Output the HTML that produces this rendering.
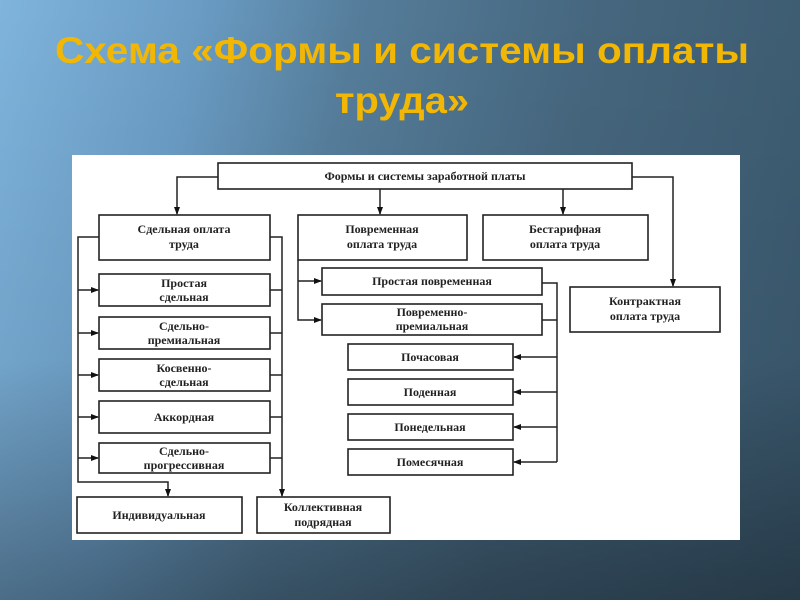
<!DOCTYPE html>
<html><head><meta charset="utf-8"><style>
html,body{margin:0;padding:0;width:800px;height:600px;overflow:hidden}
body{background:linear-gradient(100deg,#7fb4dc 0%,#6a9cc4 22%,#557d9a 40%,#46677f 65%,#3a586d 100%)}
</style></head><body>
<svg width="800" height="600" xmlns="http://www.w3.org/2000/svg" style="position:absolute;left:0;top:0">
<defs>
<linearGradient id="v" x1="0" y1="0" x2="0" y2="1">
<stop offset="0" stop-color="#000" stop-opacity="0"/>
<stop offset="0.6" stop-color="#000" stop-opacity="0.05"/>
<stop offset="1" stop-color="#000" stop-opacity="0.35"/>
</linearGradient>
<marker id="a" markerWidth="8" markerHeight="8" refX="7" refY="4" orient="auto" markerUnits="userSpaceOnUse">
<path d="M0,1 L8,4 L0,7 Z" fill="#111"/></marker>
</defs>
<rect width="800" height="600" fill="url(#v)"/>
<g font-family="Liberation Sans, sans-serif" font-weight="bold" fill="#f2b705" font-size="37" text-anchor="middle">
<text x="402" y="63" textLength="694" lengthAdjust="spacingAndGlyphs">Схема «Формы и системы оплаты</text>
<text x="402" y="113" textLength="134" lengthAdjust="spacingAndGlyphs">труда»</text>
</g>
<rect x="72" y="155" width="668" height="385" fill="#fff"/>
<g fill="none" stroke="#222" stroke-width="1.6">
<rect x="218" y="163" width="414" height="26"/>
<rect x="99" y="215" width="171" height="45"/>
<rect x="298" y="215" width="169" height="45"/>
<rect x="483" y="215" width="165" height="45"/>
<rect x="570" y="287" width="150" height="45"/>
<rect x="99" y="274" width="171" height="32"/>
<rect x="99" y="317" width="171" height="32"/>
<rect x="99" y="359" width="171" height="32"/>
<rect x="99" y="401" width="171" height="32"/>
<rect x="99" y="443" width="171" height="30"/>
<rect x="77" y="497" width="165" height="36"/>
<rect x="257" y="497" width="133" height="36"/>
<rect x="322" y="268" width="220" height="27"/>
<rect x="322" y="304" width="220" height="31"/>
<rect x="348" y="344" width="165" height="26"/>
<rect x="348" y="379" width="165" height="26"/>
<rect x="348" y="414" width="165" height="26"/>
<rect x="348" y="449" width="165" height="26"/>
</g>
<g fill="none" stroke="#222" stroke-width="1.5">
<path d="M218,177 H177 V214" marker-end="url(#a)"/>
<path d="M632,177 H673 V286" marker-end="url(#a)"/>
<path d="M380,189 V214" marker-end="url(#a)"/>
<path d="M563,189 V214" marker-end="url(#a)"/>
<path d="M99,237 H78 V482 H168 V496" marker-end="url(#a)"/>
<path d="M78,290 H98" marker-end="url(#a)"/>
<path d="M78,333 H98" marker-end="url(#a)"/>
<path d="M78,375 H98" marker-end="url(#a)"/>
<path d="M78,417 H98" marker-end="url(#a)"/>
<path d="M78,458 H98" marker-end="url(#a)"/>
<path d="M270,237 H282 V496" marker-end="url(#a)"/>
<path d="M270,290 H282 M270,333 H282 M270,375 H282 M270,417 H282 M270,458 H282"/>
<path d="M298,260 V320 H321" marker-end="url(#a)"/>
<path d="M298,281 H321" marker-end="url(#a)"/>
<path d="M542,283 H557 V462"/>
<path d="M542,320 H557"/>
<path d="M557,357 H514" marker-end="url(#a)"/>
<path d="M557,392 H514" marker-end="url(#a)"/>
<path d="M557,427 H514" marker-end="url(#a)"/>
<path d="M557,462 H514" marker-end="url(#a)"/>
</g>
<g font-family="Liberation Serif, serif" font-weight="bold" font-size="12" fill="#222" text-anchor="middle">
<text x="425" y="180">Формы и системы заработной платы</text>
<text x="184" y="233">Сдельная оплата</text><text x="184" y="248">труда</text>
<text x="382" y="233">Повременная</text><text x="382" y="248">оплата труда</text>
<text x="565" y="233">Бестарифная</text><text x="565" y="248">оплата труда</text>
<text x="645" y="305">Контрактная</text><text x="645" y="320">оплата труда</text>
<text x="184" y="287">Простая</text><text x="184" y="301">сдельная</text>
<text x="184" y="330">Сдельно-</text><text x="184" y="344">премиальная</text>
<text x="184" y="372">Косвенно-</text><text x="184" y="386">сдельная</text>
<text x="184" y="421">Аккордная</text>
<text x="184" y="455">Сдельно-</text><text x="184" y="469">прогрессивная</text>
<text x="159" y="519">Индивидуальная</text>
<text x="323" y="511">Коллективная</text><text x="323" y="526">подрядная</text>
<text x="432" y="285">Простая повременная</text>
<text x="432" y="316">Повременно-</text><text x="432" y="330">премиальная</text>
<text x="430" y="361">Почасовая</text>
<text x="430" y="396">Поденная</text>
<text x="430" y="431">Понедельная</text>
<text x="430" y="466">Помесячная</text>
</g>
</svg>
</body></html>
